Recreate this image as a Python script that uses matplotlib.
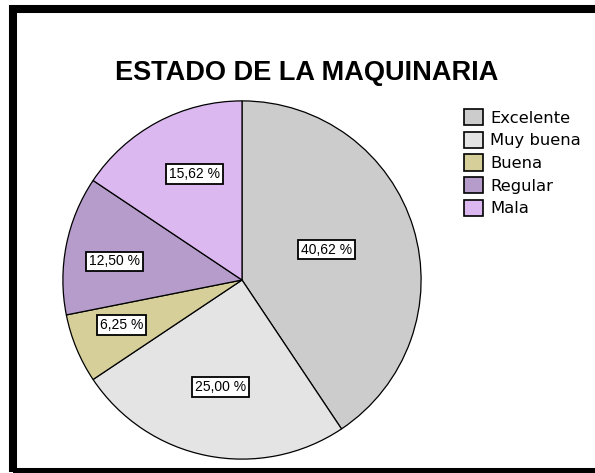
import matplotlib.pyplot as plt
import matplotlib.patches as mpatches
import numpy as np

# Data
categories = ["Excelente", "Muy buena", "Buena", "Regular", "Mala"]
percentages = [40.62, 25.00, 6.25, 12.50, 15.62]
pct_labels = ["40,62 %", "25,00 %", "6,25 %", "12,50 %", "15,62 %"]
colors = ["#cccccc", "#e4e4e4", "#d6cf9a", "#b69ccb", "#dcb8f0"]
# label placement: fraction of radius, and angle shift (deg) from wedge middle
label_dist = [0.50, 0.61, 0.72, 0.72, 0.65]
label_shift = [3, 0, -2, 3, -4]

W, H = 595, 473
fig = plt.figure(figsize=(W / 100, H / 100), dpi=100)
plt.rcParams['font.family'] = ['Liberation Sans', 'DejaVu Sans']

# pie axes: center (242, 280) px, radius 180 px
cx, cy, r = 242, 280, 180
ax = fig.add_axes([(cx - r) / W, (H - cy - r) / H, 2 * r / W, 2 * r / H])
wedges, _ = ax.pie(percentages, colors=colors, startangle=90, counterclock=False,
                   wedgeprops=dict(edgecolor="black", linewidth=0.9))
ax.set_aspect("equal")
ax.set_xlim(-1.005, 1.005)
ax.set_ylim(-1.005, 1.005)

for w, lab, d, s in zip(wedges, pct_labels, label_dist, label_shift):
    ang = np.deg2rad((w.theta1 + w.theta2) / 2 + s)
    ax.text(d * np.cos(ang), d * np.sin(ang), lab, ha="center", va="center",
            fontsize=10, bbox=dict(boxstyle="square,pad=0.2", fc="white", ec="black", lw=1.3))

fig.text(307 / W, 1 - 73 / H, "ESTADO DE LA MAQUINARIA", ha="center", va="center",
         fontsize=19.5, fontweight="bold")

handles = [mpatches.Patch(facecolor=c, edgecolor="black", linewidth=1.2) for c in colors]
fig.legend(handles, categories, loc="upper left", bbox_to_anchor=(456 / W, 1 - 101 / H),
           frameon=False, handlelength=1.15, handleheight=1.15,
           handletextpad=0.45, labelspacing=0.36, borderpad=0,
           prop=dict(family="DejaVu Sans", size=11.8))

# outer frame (right side runs off the image)
frame = mpatches.Rectangle((13 / W, 1 - 472 / H), 1.2, (472 - 9) / H, transform=fig.transFigure,
                           fill=False, edgecolor="black", linewidth=5.8, clip_on=False)
fig.patches.append(frame)

fig.savefig("out.png", dpi=100)
